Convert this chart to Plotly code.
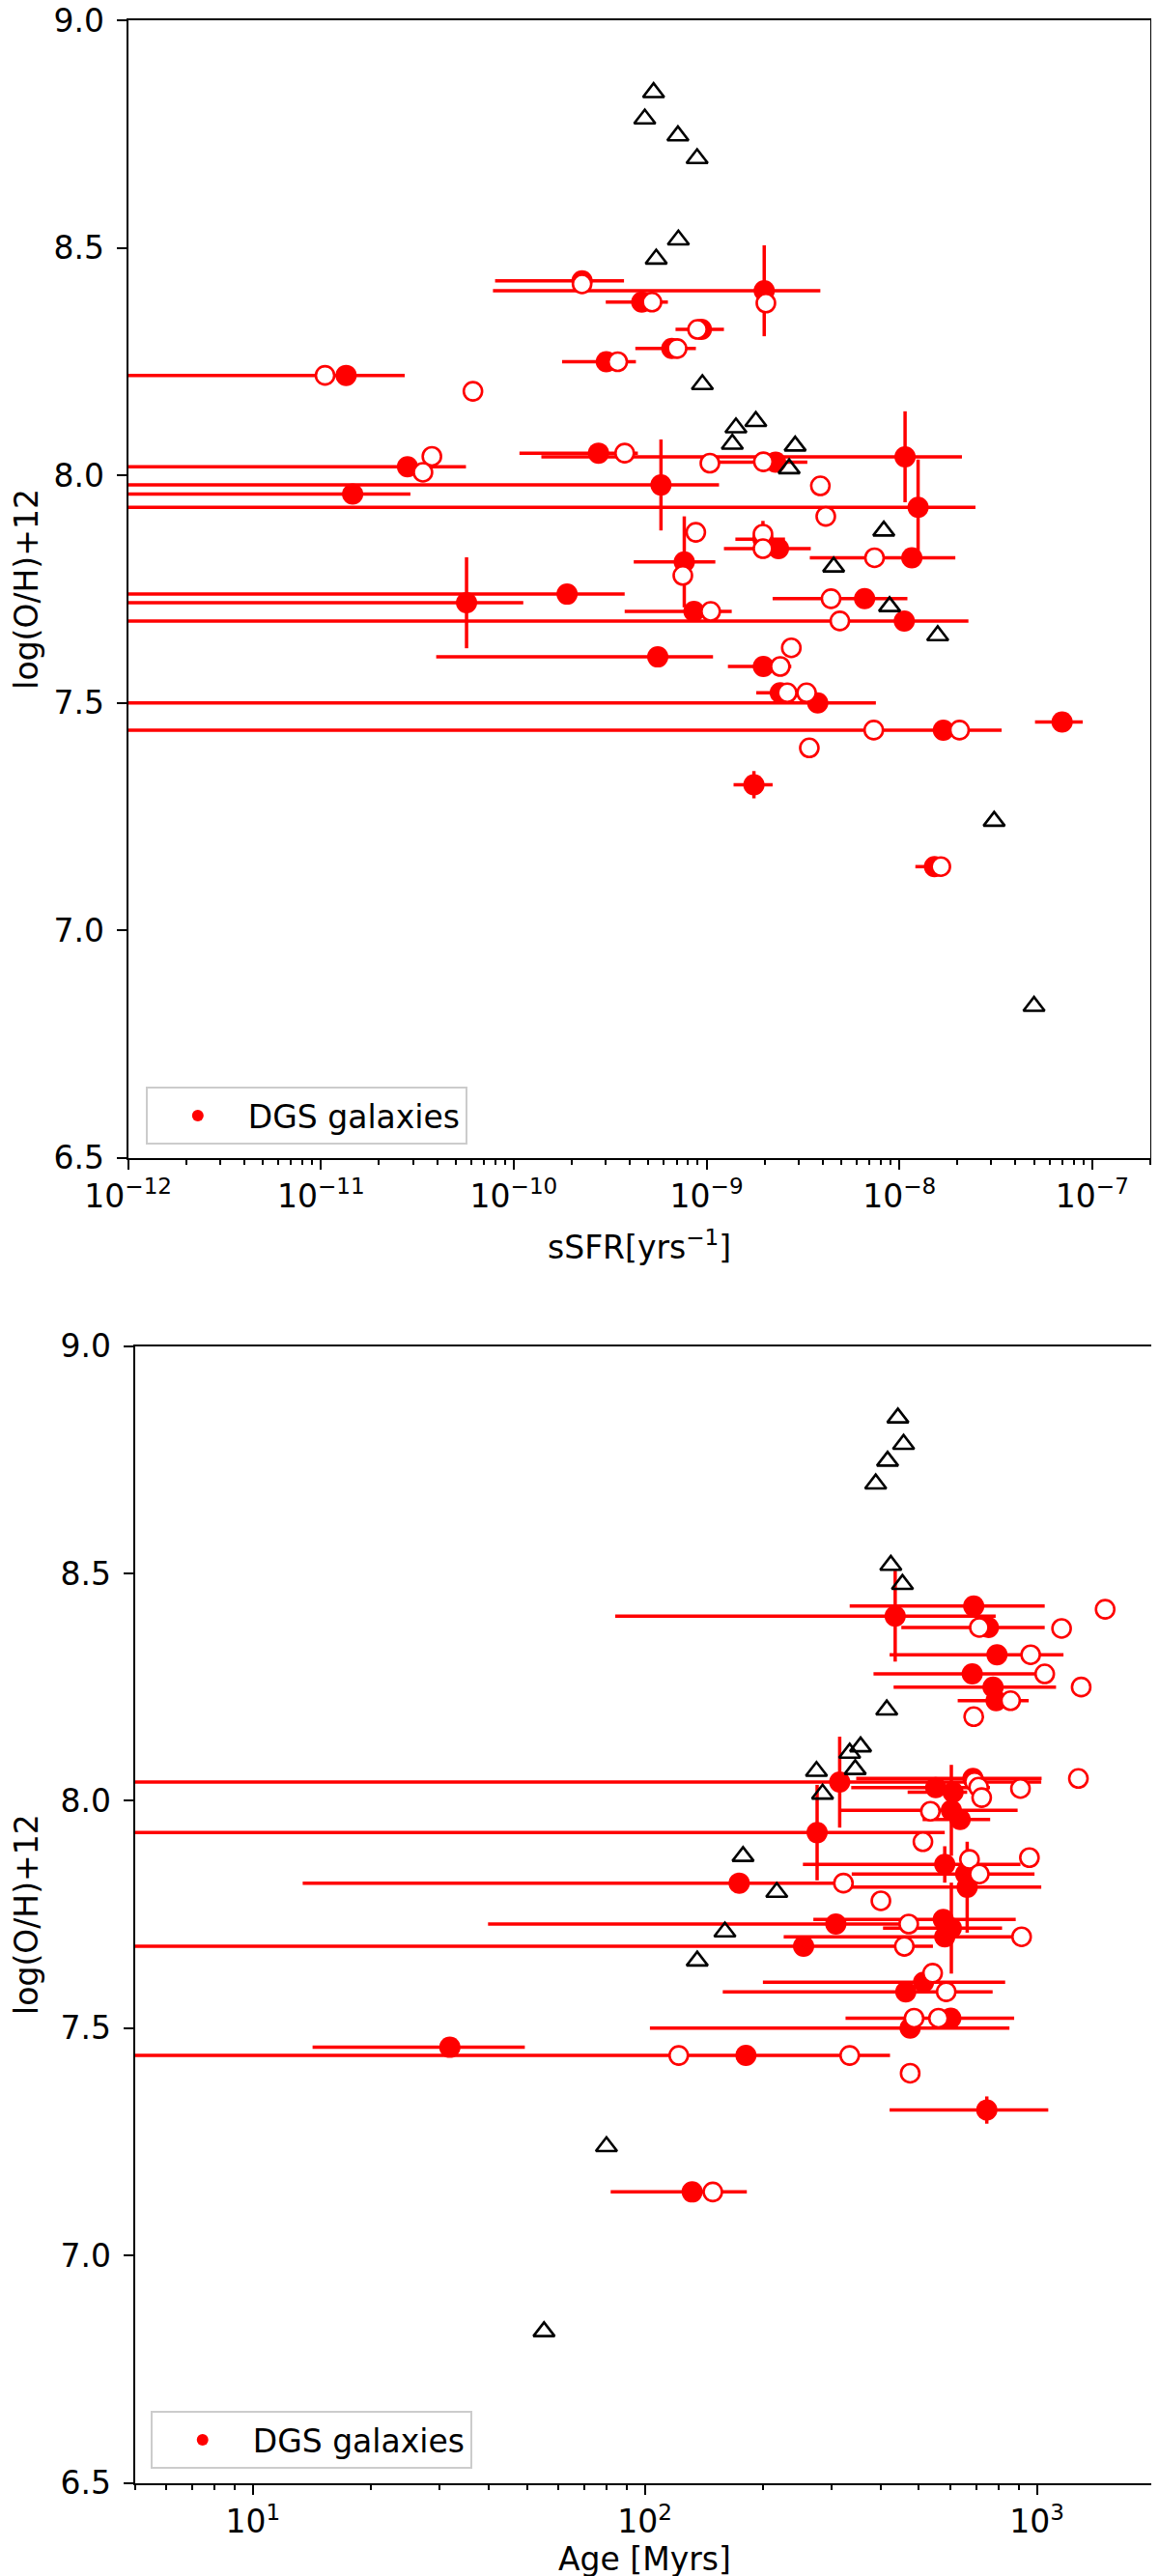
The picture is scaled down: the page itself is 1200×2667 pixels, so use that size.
import math
import plotly.graph_objects as go

# ---------------- data ----------------
# DGS galaxies (filled red points with error bars), same galaxies in both panels
oh_dgs = [8.428, 8.406, 8.381, 8.321, 8.279, 8.250, 8.220, 8.049, 8.019, 7.979,
          7.959, 7.930, 8.041, 8.029, 7.860, 7.810, 7.819, 7.729, 7.739, 7.720,
          7.701, 7.680, 7.601, 7.580, 7.522, 7.500, 7.440, 7.458, 7.320, 7.140, 7.839]
oh_err = [0, 0.10, 0, 0, 0, 0, 0, 0, 0, 0.10,
          0, 0.105, 0.10, 0, 0.04, 0.10, 0, 0, 0, 0.10,
          0, 0, 0, 0, 0, 0, 0, 0, 0.03, 0, 0]

ssfr_dgs = [2.26e-10, 1.99e-9, 4.61e-10, 9.4e-10, 6.6e-10, 3.02e-10, 1.35e-11, 2.75e-10, 2.81e-11, 5.8e-10,
            1.46e-11, 1.25e-8, 1.07e-8, 2.28e-9, 1.96e-9, 7.66e-10, 1.16e-8, 6.6e-9, 1.89e-10, 5.69e-11,
            8.6e-10, 1.06e-8, 5.58e-10, 1.97e-9, 2.41e-9, 3.77e-9, 1.69e-8, 6.98e-8, 1.76e-9, 1.52e-8, 2.36e-9]
ssfr_lo = [8.0e-11, 7.8e-11, 3.0e-10, 6.9e-10, 4.27e-10, 1.78e-10, 1e-14, 1.07e-10, 1e-14, 1e-14,
           1e-14, 1e-14, 1.39e-10, 1.16e-9, 1.41e-9, 4.19e-10, 3.43e-9, 2.2e-9, 1e-14, 1e-14,
           3.76e-10, 1e-14, 3.96e-11, 1.29e-9, 1.81e-9, 1e-14, 1e-14, 5.05e-8, 1.38e-9, 1.21e-8, 1.23e-9]
ssfr_hi = [3.73e-10, 3.89e-9, 6.3e-10, 1.23e-9, 8.8e-10, 4.3e-10, 2.72e-11, 4.4e-10, 5.65e-11, 1.16e-9,
           2.91e-11, 2.48e-8, 2.11e-8, 3.33e-9, 2.55e-9, 1.11e-9, 1.95e-8, 1.10e-8, 3.76e-10, 1.12e-10,
           1.35e-9, 2.28e-8, 1.08e-9, 2.75e-9, 3.57e-9, 7.55e-9, 3.39e-8, 8.93e-8, 2.2e-9, 1.75e-8, 3.47e-9]

age_dgs = [690, 435, 752, 791, 684, 773, 787, 687, 611, 605,
           637, 275, 314, 552, 582, 664, 174, 307, 577, 605,
           582, 254, 514, 463, 603, 475, 181, 31.8, 745, 132, 658]
age_lo = [333, 84, 451, 421, 383, 431, 628, 346, 468, 316,
          511, 1.0, 1.0, 336, 253, 335, 13.4, 39.8, 269, 405,
          226, 1.0, 200, 158, 325, 103, 1.0, 14.2, 421, 81.8, 337]
age_hi = [1047, 785, 1047, 1169, 1000, 1119, 953, 1028, 664, 893,
          760, 582, 1026, 759, 908, 1026, 322, 457, 883, 815,
          912, 543, 830, 771, 875, 851, 422, 49.4, 1069, 182, 986]

# open red circles (alternative estimates)
oh_open = [8.421, 8.379, 8.381, 8.321, 8.279, 8.250, 8.220, 8.185, 8.049, 8.042,
           8.030, 8.027, 8.007, 7.977, 7.910, 7.875, 7.871, 7.839, 7.819, 7.780,
           7.729, 7.701, 7.680, 7.621, 7.580, 7.522, 7.522, 7.440, 7.440, 7.401, 7.140]
ssfr_open = [2.26e-10, 2.03e-9, 5.21e-10, 8.97e-10, 7.03e-10, 3.46e-10, 1.05e-11, 6.14e-11, 3.76e-10, 3.76e-11,
             1.97e-9, 1.04e-9, 3.38e-11, 3.89e-9, 4.15e-9, 8.79e-10, 1.96e-9, 1.96e-9, 7.43e-9, 7.53e-10,
             4.42e-9, 1.05e-9, 4.91e-9, 2.75e-9, 2.41e-9, 2.62e-9, 3.30e-9, 7.36e-9, 2.05e-8, 3.41e-9, 1.64e-8]
age_open = [1493, 1156, 713, 964, 1047, 1297, 857, 690, 1276, 693,
            710, 908, 723, 535, 512, 957, 673, 713, 321, 400,
            471, 914, 459, 542, 587, 486, 561, 122, 333, 475, 149]

# black open triangles (comparison sample)
oh_ref = [8.842, 8.784, 8.747, 8.697, 8.518, 8.476, 8.200, 8.105, 8.119, 8.069,
          8.065, 8.015, 7.878, 7.799, 7.712, 7.648, 7.240, 6.833]
ssfr_ref = [5.31e-10, 4.78e-10, 7.10e-10, 8.93e-10, 7.14e-10, 5.48e-10, 9.51e-10, 1.42e-9, 1.80e-9, 1.36e-9,
            2.88e-9, 2.68e-9, 8.30e-9, 4.56e-9, 8.89e-9, 1.58e-8, 3.10e-8, 4.99e-8]
age_ref = [442, 457, 416, 388, 424, 454, 414, 333, 355, 344,
           274, 284, 178, 217, 160, 136, 79.8, 55.3]

# tick labels
y_ticks = [6.5, 7.0, 7.5, 8.0, 8.5, 9.0]
y_ticktext = ["6.5", "7.0", "7.5", "8.0", "8.5", "9.0"]
ssfr_ticks = [1e-12, 1e-11, 1e-10, 1e-9, 1e-8, 1e-7]
ssfr_ticktext = ["10<sup>\u221212</sup>", "10<sup>\u221211</sup>", "10<sup>\u221210</sup>",
                 "10<sup>\u22129</sup>", "10<sup>\u22128</sup>", "10<sup>\u22127</sup>"]
age_ticks = [10, 100, 1000]
age_ticktext = ["10<sup>1</sup>", "10<sup>2</sup>", "10<sup>3</sup>"]

# ---------------- figure ----------------
FONT = "DejaVu Sans"
RED = "#ff0000"
FS = 33
W, H = 1200, 2667

# axis boxes (paper fractions)
TOP_X = [0.1039, 0.9858]
TOP_Y = [0.5536, 0.9950]
BOT_X = [0.1097, 0.9898]
BOT_Y = [0.0391, 0.4805]

def minor_vals(lo_exp, hi_exp):
    out = []
    for e in range(lo_exp, hi_exp + 1):
        for m in range(2, 10):
            out.append(m * 10.0 ** e)
    return out

fig = go.Figure()

panels = [
    ("x", "y", "legend", ssfr_dgs, ssfr_lo, ssfr_hi, ssfr_open, ssfr_ref),
    ("x2", "y2", "legend2", age_dgs, age_lo, age_hi, age_open, age_ref),
]
for xa, ya, leg, xv, xlo, xhi, xopen, xref in panels:
    fig.add_trace(go.Scatter(
        x=xv, y=oh_dgs, mode="markers", name="DGS galaxies",
        xaxis=xa, yaxis=ya, legend=leg, showlegend=True,
        marker=dict(color=RED, size=22, line=dict(width=0)),
        error_x=dict(type="data", symmetric=False,
                     array=[h - v for h, v in zip(xhi, xv)],
                     arrayminus=[v - l for v, l in zip(xv, xlo)],
                     color=RED, thickness=3.5, width=0),
        error_y=dict(type="data", symmetric=True, array=oh_err,
                     color=RED, thickness=3.5, width=0),
    ))
    fig.add_trace(go.Scatter(
        x=xopen, y=oh_open, mode="markers", showlegend=False,
        xaxis=xa, yaxis=ya,
        marker=dict(color="white", size=19, line=dict(color=RED, width=2.6)),
    ))
    fig.add_trace(go.Scatter(
        x=xref, y=oh_ref, mode="markers", showlegend=False,
        xaxis=xa, yaxis=ya,
        marker=dict(symbol="triangle-up-open", color="black", size=19,
                    line=dict(color="black", width=2.6)),
    ))

axis_common = dict(
    showline=True, linecolor="black", linewidth=2.2, mirror=True,
    ticks="outside", ticklen=10, tickwidth=2.2, tickcolor="black",
    tickfont=dict(family=FONT, size=FS, color="black"),
    showgrid=False, zeroline=False, automargin=False,
    ticklabeloverflow="allow",
)
minor_common = dict(ticks="outside", ticklen=5.6, tickwidth=1.6, tickcolor="black", showgrid=False)

legend_common = dict(
    xanchor="left", yanchor="top", bgcolor="rgba(255,255,255,0.8)",
    bordercolor="#cccccc", borderwidth=2, itemwidth=94,
    font=dict(family=FONT, size=FS, color="black"),
    itemsizing="constant",
)

title_font = dict(family=FONT, size=FS, color="black")

fig.update_layout(
    width=W, height=H,
    margin=dict(l=0, r=0, t=0, b=0),
    paper_bgcolor="white", plot_bgcolor="white",
    font=dict(family=FONT, size=FS, color="black"),
    xaxis=dict(axis_common, type="log", domain=TOP_X, anchor="y",
               range=[-12, math.log10(2e-7)],
               tickmode="array", tickvals=ssfr_ticks, ticktext=ssfr_ticktext,
               minor=dict(minor_common, tickmode="array", tickvals=minor_vals(-12, -7))),
    yaxis=dict(axis_common, domain=TOP_Y, anchor="x", range=[6.5, 9.0],
               tickmode="array", tickvals=y_ticks, ticktext=y_ticktext, ticklabelstandoff=6,
               title=dict(text="log(O/H)+12", font=title_font, standoff=26)),
    xaxis2=dict(axis_common, type="log", domain=BOT_X, anchor="y2",
                range=[math.log10(5), math.log10(2000)],
                tickmode="array", tickvals=age_ticks, ticktext=age_ticktext,
                minor=dict(minor_common, tickmode="array", tickvals=minor_vals(0, 3))),
    yaxis2=dict(axis_common, domain=BOT_Y, anchor="x2", range=[6.5, 9.0],
                tickmode="array", tickvals=y_ticks, ticktext=y_ticktext, ticklabelstandoff=6,
                title=dict(text="log(O/H)+12", font=title_font, standoff=26)),
    legend=dict(legend_common, x=0.119, y=0.5812),
    legend2=dict(legend_common, x=0.1231, y=0.0671),
    annotations=[
        dict(text="sSFR[yrs<sup>\u22121</sup>]", xref="paper", yref="paper",
             x=sum(TOP_X) / 2, y=1 - 1281 / H, xanchor="center", yanchor="middle",
             showarrow=False, font=title_font),
        dict(text="Age [Myrs]", xref="paper", yref="paper",
             x=sum(BOT_X) / 2, y=1 - 2641 / H, xanchor="center", yanchor="middle",
             showarrow=False, font=title_font),
    ],
)

fig.write_html("out.html", config={"displayModeBar": False})
